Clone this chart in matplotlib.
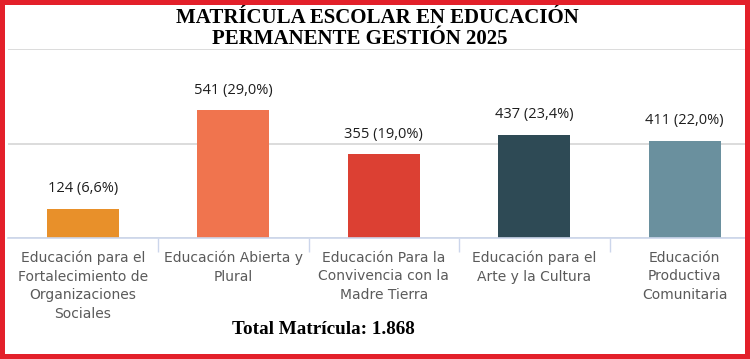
import matplotlib.pyplot as plt
from matplotlib.patches import Rectangle
import numpy as np

# data
categories = [
    "Educación para el\nFortalecimiento de\nOrganizaciones\nSociales",
    "Educación Abierta y\nPlural",
    "Educación Para la\nConvivencia con la\nMadre Tierra",
    "Educación para el\nArte y la Cultura",
    "Educación\nProductiva\nComunitaria",
]
values = [124, 541, 355, 437, 411]
pct_labels = ["6,6%", "29,0%", "19,0%", "23,4%", "22,0%"]
total_label = "1.868"
y_ticks = [0, 400, 800]

COLORS = ["#e8902a", "#f0744e", "#dc4033", "#2e4a55", "#6a909e"]
BORDER_RED = "#e3202a"

W, H = 750, 359


def main():
    fig = plt.figure(figsize=(W / 100, H / 100), dpi=100)
    fig.patch.set_facecolor("white")

    # plot area runs past the right edge, like the cropped screenshot
    left, right = 7.5, 760.0
    base, top = 238.0, 49.0
    ax = fig.add_axes([left / W, (H - base) / H, (right - left) / W, (base - top) / H])
    ax.set_facecolor("none")

    x = np.arange(len(values))
    bars = ax.bar(x, values, width=0.48, color=COLORS, zorder=3)
    ax.bar_label(bars, labels=[f"{v} ({p})" for v, p in zip(values, pct_labels)],
                 padding=9, fontsize=10.5, color="#1e1e1e", family=["Open Sans", "DejaVu Sans"])

    ax.set_xlim(-0.5, len(values) - 0.5)
    ax.set_ylim(0, y_ticks[-1])
    ax.set_yticks(y_ticks)
    ax.yaxis.grid(True, color="#dcdcdc", linewidth=1.4, zorder=0)
    ax.tick_params(axis="y", length=0, labelleft=False)

    ax.set_xticks(x)
    ax.set_xticklabels(categories, fontsize=10, color="#5a5a5a", linespacing=1.42,
                       family=["Liberation Sans Narrow", "DejaVu Sans Condensed", "DejaVu Sans"])
    ax.tick_params(axis="x", which="major", length=0, pad=9)
    ax.set_xticks(x[:-1] + 0.5, minor=True)
    ax.tick_params(axis="x", which="minor", length=10, width=1, color="#ccd6eb", direction="out")

    for side in ["left", "right", "top"]:
        ax.spines[side].set_visible(False)
    ax.spines["bottom"].set_color("#ccd6eb")
    ax.spines["bottom"].set_linewidth(1.2)
    ax.spines["bottom"].set_zorder(4)

    title_kw = dict(fontsize=15, fontweight="bold", family="Liberation Serif",
                    ha="center", va="center", color="black")
    fig.text(377 / W, 1 - 18 / H, "MATRÍCULA ESCOLAR EN EDUCACIÓN", **title_kw)
    fig.text(360 / W, 1 - 39 / H, "PERMANENTE GESTIÓN 2025", **title_kw)

    fig.text(323 / W, 1 - 329 / H, f"Total Matrícula: {total_label}", fontsize=13.8,
             fontweight="bold", family="Liberation Serif", ha="center", va="center")

    fig.patches.append(Rectangle((0, 0), 1, 1, transform=fig.transFigure, fill=False,
                                 edgecolor=BORDER_RED, linewidth=7.2, zorder=10))

    fig.savefig("out.png", dpi=100)
    plt.close(fig)


if __name__ == "__main__":
    main()
